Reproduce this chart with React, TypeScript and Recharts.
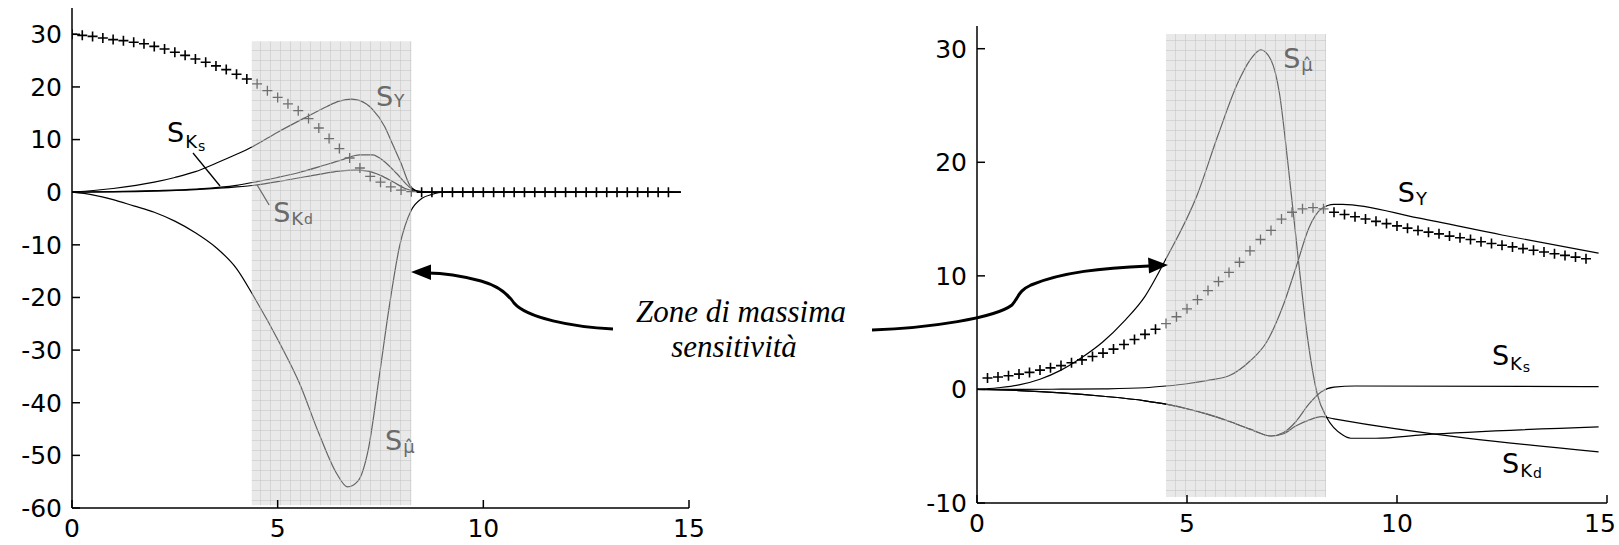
import React from 'react';
import { LineChart, Line, XAxis, YAxis, ReferenceArea, ReferenceDot } from 'recharts';

// ---------- left panel ----------
const LEFT_CROSS_X = [0, 0.25, 0.5, 0.75, 1, 1.25, 1.5, 1.75, 2, 2.25, 2.5, 2.75, 3, 3.25, 3.5, 3.75, 4, 4.25, 4.5, 4.75, 5, 5.25, 5.5, 5.75, 6, 6.25, 6.5, 6.75, 7, 7.25, 7.5, 7.75, 8, 8.25, 8.5, 8.75, 9, 9.25, 9.5, 9.75, 10, 10.25, 10.5, 10.75, 11, 11.25, 11.5, 11.75, 12, 12.25, 12.5, 12.75, 13, 13.25, 13.5, 13.75, 14, 14.25, 14.5];
const LEFT_CROSS_Y = [30, 29.8, 29.6, 29.3, 29.0, 28.8, 28.5, 28.2, 27.7, 27.2, 26.6, 26.0, 25.3, 24.7, 24.0, 23.3, 22.4, 21.5, 20.6, 19.3, 18.0, 16.8, 15.5, 14.0, 12.2, 10.2, 8.3, 6.5, 4.6, 3.0, 1.9, 1.0, 0.4, 0.1, 0, 0, 0, 0, 0, 0, 0, 0, 0, 0, 0, 0, 0, 0, 0, 0, 0, 0, 0, 0, 0, 0, 0, 0, 0];

const SY_L_X = [0, 1, 2, 2.5, 3, 3.5, 4, 4.4, 5, 5.7, 6.2, 6.5, 6.8, 7.0, 7.3, 7.6, 7.8, 8.0, 8.2, 8.4, 8.7, 14.8];
const SY_L_Y = [0, 0.7, 1.9, 2.8, 3.9, 5.5, 7.2, 8.7, 11.4, 14.3, 16.3, 17.3, 17.7, 17.4, 15.8, 12.5, 9.0, 5.5, 1.5, 0.2, 0, 0];

const KS_L_X = [0, 1, 2, 3, 4, 4.5, 5, 5.5, 6, 6.5, 7.0, 7.3, 7.6, 7.9, 8.2, 8.5, 8.8, 14.8];
const KS_L_Y = [0, 0.1, 0.3, 0.6, 1.3, 2.0, 2.8, 3.7, 4.8, 6.0, 7.1, 7.1, 5.8, 3.5, 1.0, 0.1, 0, 0];

const KD_L_X = [0, 1, 2, 3, 4, 4.5, 5, 5.5, 6, 6.5, 6.9, 7.2, 7.5, 7.8, 8.1, 8.4, 8.8, 14.8];
const KD_L_Y = [0, 0.05, 0.2, 0.5, 1.0, 1.4, 2.0, 2.7, 3.4, 4.0, 4.2, 4.0, 3.2, 2.0, 0.7, 0.1, 0, 0];

const MU_L_X = [0, 0.5, 1, 1.5, 2, 2.5, 3, 3.5, 4, 4.44, 5.05, 5.53, 6.0, 6.43, 6.7, 6.95, 7.2, 7.47, 7.7, 7.96, 8.25, 8.5, 8.76, 9.0, 14.8];
const MU_L_Y = [0, -0.5, -1.4, -2.6, -3.8, -5.5, -7.7, -10.5, -14.5, -20.1, -28.7, -36.3, -45.8, -53.4, -56, -54.9, -49, -35, -22.4, -10.4, -3.4, -1.2, -0.4, 0, 0];

// ---------- right panel ----------
const RIGHT_CROSS_X = [0.25, 0.5, 0.75, 1, 1.25, 1.5, 1.75, 2, 2.25, 2.5, 2.75, 3, 3.25, 3.5, 3.75, 4, 4.25, 4.5, 4.75, 5, 5.25, 5.5, 5.75, 6, 6.25, 6.5, 6.75, 7, 7.25, 7.5, 7.75, 8, 8.25, 8.5, 8.75, 9, 9.25, 9.5, 9.75, 10, 10.25, 10.5, 10.75, 11, 11.25, 11.5, 11.75, 12, 12.25, 12.5, 12.75, 13, 13.25, 13.5, 13.75, 14, 14.25, 14.5];
const RIGHT_CROSS_Y = [1.0, 1.1, 1.2, 1.35, 1.5, 1.7, 1.9, 2.1, 2.35, 2.6, 2.9, 3.2, 3.55, 3.95, 4.4, 4.85, 5.3, 5.8, 6.4, 7.1, 7.9, 8.7, 9.5, 10.3, 11.2, 12.2, 13.2, 14.0, 15.0, 15.6, 15.9, 16.0, 15.9, 15.6, 15.4, 15.2, 15.0, 14.8, 14.6, 14.4, 14.2, 14.0, 13.85, 13.7, 13.5, 13.35, 13.2, 13.0, 12.85, 12.7, 12.55, 12.4, 12.25, 12.1, 11.95, 11.8, 11.65, 11.5];

const SY_R_X = [0, 1, 2, 3, 4, 4.5, 5, 5.5, 6, 6.5, 6.9, 7.3, 7.6, 7.9, 8.2, 8.5, 8.7, 10.5, 12.5, 14.8];
const SY_R_Y = [0, 0, 0.02, 0.05, 0.15, 0.3, 0.5, 0.8, 1.2, 2.5, 4.2, 7.5, 10.8, 14.2, 15.9, 16.3, 16.3, 15.1, 13.6, 12.0];

const MU_R_X = [0, 0.5, 1, 1.5, 2, 2.45, 3, 3.5, 4, 4.5, 5.24, 5.74, 6.21, 6.5, 6.76, 7.0, 7.2, 7.4, 7.64, 7.86, 8.1, 8.33, 8.7, 8.9, 9.5, 10.6, 14.8];
const MU_R_Y = [0, 0.15, 0.4, 0.9, 1.7, 2.7, 4.2, 6.0, 8.2, 11.5, 17.1, 22.4, 27.0, 29.0, 29.9, 29.0, 26.1, 20.0, 11.8, 4.8, -0.4, -2.5, -4.0, -4.3, -4.3, -4.0, -3.3];

const KS_R_X = [0, 1, 2, 3, 4, 4.5, 5, 5.5, 6, 6.5, 7.0, 7.3, 7.6, 7.9, 8.2, 8.5, 9, 14.8];
const KS_R_Y = [0, -0.1, -0.3, -0.6, -1.0, -1.3, -1.7, -2.2, -2.8, -3.5, -4.1, -3.8, -2.8, -1.3, -0.2, 0.2, 0.3, 0.25];

const KD_R_X = [0, 1, 2, 3, 4, 4.5, 5, 5.5, 6, 6.5, 7.0, 7.3, 7.6, 7.9, 8.2, 8.5, 14.8];
const KD_R_Y = [0, -0.1, -0.3, -0.6, -1.0, -1.3, -1.7, -2.2, -2.8, -3.5, -4.1, -3.9, -3.2, -2.7, -2.4, -2.6, -5.5];

// axis ticks and highlighted zones
const X_TICKS = [0, 5, 10, 15];
const LEFT_Y_TICKS = [-60, -50, -40, -30, -20, -10, 0, 10, 20, 30];
const RIGHT_Y_TICKS = [-10, 0, 10, 20, 30];
const LEFT_ZONE = { x1: 4.37, x2: 8.25, y1: -59.5, y2: 28.7 };
const RIGHT_ZONE = { x1: 4.5, x2: 8.31, y1: -9.47, y2: 31.3 };

const pts = (xs: number[], ys: number[]) => xs.map((x, i) => ({ x, y: ys[i] }));

const FONT = 'DejaVu Sans, sans-serif';
const GRAY = '#6a6a6a';
const CROSS_GRAY = '#6e6e6e';

// "+" markers; the ones inside the highlighted zone are drawn in the zone's gray
function makeCross(zone: { x1: number; x2: number }) {
  return function Cross(props: any) {
    const { cx, cy, index, payload } = props;
    if (cx == null || cy == null) return <g key={`n${index}`} />;
    const inZone = payload && payload.x >= zone.x1 && payload.x <= zone.x2;
    return (
      <path
        key={`c${index}`}
        d={`M${cx - 5},${cy}H${cx + 5}M${cx},${cy - 5}V${cy + 5}`}
        stroke={inZone ? CROSS_GRAY : '#000'}
        strokeWidth={inZone ? 1.3 : 1.6}
        fill="none"
      />
    );
  };
}
const LeftCross = makeCross(LEFT_ZONE);
const RightCross = makeCross(RIGHT_ZONE);

type SymProps = {
  cx?: number;
  cy?: number;
  sub: string;
  sub2?: string;
  color: string;
  subDy: number;
  subSize: number;
  sub2Dy?: number;
  pointer?: [number, number, number, number];
};

function SymbolLabel({ cx = 0, cy = 0, sub, sub2, color, subDy, subSize, sub2Dy = 0, pointer }: SymProps) {
  return (
    <g>
      {pointer && (
        <line
          x1={cx + pointer[0]}
          y1={cy + pointer[1]}
          x2={cx + pointer[2]}
          y2={cy + pointer[3]}
          stroke={color}
          strokeWidth={1.3}
        />
      )}
      <text x={cx} y={cy} fill={color} fontFamily={FONT} fontSize={27}>
        S
        <tspan dx={1} dy={subDy} fontSize={subSize}>
          {sub}
        </tspan>
        {sub2 && (
          <tspan dx={1} dy={sub2Dy} fontSize={14}>
            {sub2}
          </tspan>
        )}
      </text>
    </g>
  );
}

const axisStyle = { stroke: '#000', strokeWidth: 1.5 };
const tickStyle = { fill: '#000', fontSize: 25, fontFamily: FONT };

// x tick label for the right panel; the last one sits at the page edge, so it is nudged inwards
function RightXTick(props: any) {
  const { x, y, payload } = props;
  const shift = payload.value === 15 ? -7 : 0;
  return (
    <text x={x + shift} y={y} dy="0.71em" textAnchor="middle" fill="#000" fontSize={25} fontFamily={FONT}>
      {payload.value}
    </text>
  );
}

function ZonePattern({ id }: { id: string }) {
  return (
    <defs>
      <pattern id={id} width={10} height={10} patternUnits="userSpaceOnUse">
        <rect width={10} height={10} fill="rgb(208,208,208)" fillOpacity={0.48} />
        <path d="M0,0.5H10M0.5,0V10" stroke="#bdbdbd" strokeOpacity={0.45} strokeWidth={1} fill="none" />
      </pattern>
    </defs>
  );
}

function curve(key: string, data: { x: number; y: number }[], type: 'linear' | 'monotone') {
  return (
    <Line
      key={key}
      data={data}
      dataKey="y"
      type={type}
      stroke="#000"
      strokeWidth={1.2}
      dot={false}
      isAnimationActive={false}
    />
  );
}

export default function App() {
  const mu = '\u03bc\u0302';
  return (
    <div style={{ position: 'absolute', left: 0, top: 0, width: 1619, height: 545, background: '#fff', overflow: 'hidden' }}>
      <div style={{ position: 'absolute', left: 0, top: 0 }}>
        <LineChart width={720} height={545} margin={{ top: 8, right: 31, bottom: 0, left: 0 }}>
          <ZonePattern id="zoneLeft" />
          <XAxis
            type="number"
            dataKey="x"
            domain={[0, 15]}
            ticks={X_TICKS}
            interval={0}
            height={37}
            tickSize={-8}
            tickMargin={19}
            axisLine={axisStyle}
            tickLine={axisStyle}
            tick={tickStyle}
            allowDataOverflow
          />
          <YAxis
            type="number"
            domain={[-60, 35]}
            ticks={LEFT_Y_TICKS}
            interval={0}
            width={72}
            tickSize={-8}
            tickMargin={18}
            axisLine={axisStyle}
            tickLine={axisStyle}
            tick={tickStyle}
            allowDataOverflow
          />
          {curve('syL', pts(SY_L_X, SY_L_Y), 'monotone')}
          {curve('ksL', pts(KS_L_X, KS_L_Y), 'monotone')}
          {curve('kdL', pts(KD_L_X, KD_L_Y), 'monotone')}
          {curve('muL', pts(MU_L_X, MU_L_Y), 'monotone')}
          <Line
            data={pts(LEFT_CROSS_X, LEFT_CROSS_Y)}
            dataKey="y"
            stroke="none"
            dot={LeftCross}
            isAnimationActive={false}
          />
          <ReferenceArea
            {...LEFT_ZONE}
            fill="url(#zoneLeft)"
            fillOpacity={1}
            stroke="none"
            ifOverflow="visible"
            zIndex={450}
          />
          <ReferenceDot x={7.39} y={16.4} r={0} ifOverflow="visible" zIndex={2000}
            shape={(p: any) => <SymbolLabel cx={p.cx} cy={p.cy} sub="Y" subSize={17} subDy={1} color={GRAY} />} />
          <ReferenceDot x={2.31} y={9.54} r={0} ifOverflow="visible" zIndex={2000}
            shape={(p: any) => (
              <SymbolLabel cx={p.cx} cy={p.cy} sub="K" sub2="s" subSize={18} subDy={6} sub2Dy={3} color="#000" pointer={[26, 11, 53, 44]} />
            )} />
          <ReferenceDot x={4.89} y={-5.66} r={0} ifOverflow="visible" zIndex={2000}
            shape={(p: any) => (
              <SymbolLabel cx={p.cx} cy={p.cy} sub="K" sub2="d" subSize={18} subDy={3} sub2Dy={-1} color={GRAY} pointer={[-16, -37, -4, -17]} />
            )} />
          <ReferenceDot x={7.61} y={-49.0} r={0} ifOverflow="visible" zIndex={2000}
            shape={(p: any) => <SymbolLabel cx={p.cx} cy={p.cy} sub={mu} subSize={18} subDy={3} color={GRAY} />} />
        </LineChart>
      </div>

      <div style={{ position: 'absolute', left: 905, top: 0 }}>
        <LineChart width={714} height={545} margin={{ top: 26, right: 12, bottom: 0, left: 0 }}>
          <ZonePattern id="zoneRight" />
          <XAxis
            type="number"
            dataKey="x"
            domain={[0, 15]}
            ticks={X_TICKS}
            interval={0}
            height={42}
            tickSize={-8}
            tickMargin={19}
            axisLine={axisStyle}
            tickLine={axisStyle}
            tick={<RightXTick />}
            allowDataOverflow
          />
          <YAxis
            type="number"
            domain={[-10, 32]}
            ticks={RIGHT_Y_TICKS}
            interval={0}
            width={72}
            tickSize={-8}
            tickMargin={18}
            axisLine={axisStyle}
            tickLine={axisStyle}
            tick={tickStyle}
            allowDataOverflow
          />
          {curve('syR', pts(SY_R_X, SY_R_Y), 'monotone')}
          {curve('ksR', pts(KS_R_X, KS_R_Y), 'monotone')}
          {curve('kdR', pts(KD_R_X, KD_R_Y), 'monotone')}
          {curve('muR', pts(MU_R_X, MU_R_Y), 'monotone')}
          <Line
            data={pts(RIGHT_CROSS_X, RIGHT_CROSS_Y)}
            dataKey="y"
            stroke="none"
            dot={RightCross}
            isAnimationActive={false}
          />
          <ReferenceArea
            {...RIGHT_ZONE}
            fill="url(#zoneRight)"
            fillOpacity={1}
            stroke="none"
            ifOverflow="visible"
            zIndex={450}
          />
          <ReferenceDot x={7.29} y={28.3} r={0} ifOverflow="visible" zIndex={2000}
            shape={(p: any) => <SymbolLabel cx={p.cx} cy={p.cy} sub={mu} subSize={18} subDy={3} color={GRAY} />} />
          <ReferenceDot x={10.02} y={16.52} r={0} ifOverflow="visible" zIndex={2000}
            shape={(p: any) => <SymbolLabel cx={p.cx} cy={p.cy} sub="Y" subSize={18} subDy={3} color="#000" />} />
          <ReferenceDot x={12.26} y={2.16} r={0} ifOverflow="visible" zIndex={2000}
            shape={(p: any) => (
              <SymbolLabel cx={p.cx} cy={p.cy} sub="K" sub2="s" subSize={18} subDy={5} sub2Dy={2} color="#000" />
            )} />
          <ReferenceDot x={12.5} y={-7.36} r={0} ifOverflow="visible" zIndex={2000}
            shape={(p: any) => (
              <SymbolLabel cx={p.cx} cy={p.cy} sub="K" sub2="d" subSize={18} subDy={4} sub2Dy={1} color="#000" />
            )} />
        </LineChart>
      </div>

      <svg
        width={1619}
        height={545}
        style={{ position: 'absolute', left: 0, top: 0, pointerEvents: 'none' }}
      >
        <path
          d="M613,329 C572,327 527,318 514,303 C508,294 499,286 481,281 C462,276 444,273 428,273"
          fill="none"
          stroke="#000"
          strokeWidth={3}
        />
        <path d="M411,272 L431,264.5 L431,280 Z" fill="#000" />
        <path
          d="M872,330 C930,328 995,318 1012,305 C1019,297 1018,291 1031,285 C1062,272 1102,268 1149,266"
          fill="none"
          stroke="#000"
          strokeWidth={3}
        />
        <path d="M1168,265 L1148,257.5 L1149,273.5 Z" fill="#000" />
        <text x={741} y={322} textAnchor="middle" fontFamily="Liberation Serif, serif" fontStyle="italic" fontSize={31} fill="#000">
          Zone di massima
        </text>
        <text x={734} y={357} textAnchor="middle" fontFamily="Liberation Serif, serif" fontStyle="italic" fontSize={31} fill="#000">
          sensitività
        </text>
      </svg>
    </div>
  );
}
